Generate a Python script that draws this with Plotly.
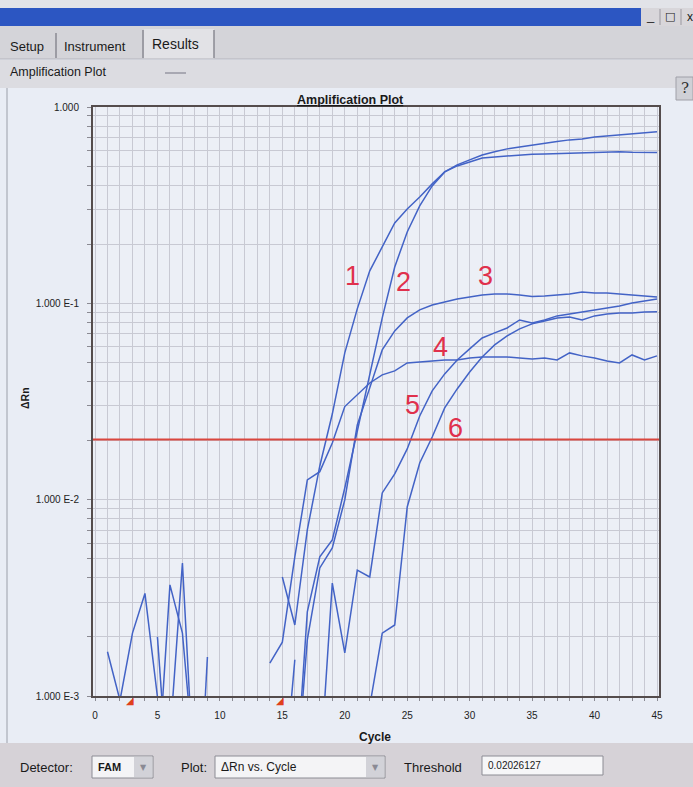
import plotly.graph_objects as go

# ---------------- data ----------------
cycles = list(range(1, 46))

# Delta Rn per cycle for wells 1-6 (None = negative reading, not drawn on the log scale)
drn_1 = [0.00168, 0.00095, 0.00209, 0.00333, 0.00099, None, None, None, None,
         None, None, None, None, None, 0.00404, 0.00230, 0.00701, 0.01485,
         0.0273, 0.0559, 0.0937, 0.1463, 0.1938, 0.2569, 0.3026, 0.3483,
         0.4058, 0.467, 0.501, 0.525, 0.550, 0.557, 0.564, 0.570, 0.574,
         0.577, 0.580, 0.584, 0.584, 0.586, 0.591, 0.591, 0.588, 0.586, 0.586]
drn_2 = [None, None, None, None, 0.0020, 0.00026, None, None, None,
         None, None, None, None, None, None, 0.000305, 0.00268, 0.00511,
         0.00623, 0.01147, 0.0221, 0.0432, 0.0843, 0.1532, 0.231, 0.3135,
         0.3964, 0.467, 0.507, 0.538, 0.570, 0.591, 0.612, 0.626, 0.641,
         0.656, 0.668, 0.680, 0.688, 0.704, 0.713, 0.721, 0.730, 0.738, 0.747]
drn_3 = [None, None, None, None, 0.00037, 0.00368, 0.00209, 0.0004, None,
         None, None, None, None, None, None, 0.0003, 0.00193, 0.00449,
         0.00568, 0.00997, 0.0240, 0.0371, 0.0579, 0.0724, 0.0843, 0.0926,
         0.0981, 0.1016, 0.1053, 0.1078, 0.1104, 0.1117, 0.1117, 0.1104, 0.1085,
         0.109, 0.1104, 0.1117, 0.1143, 0.113, 0.113, 0.1117, 0.1104, 0.109, 0.1078]
drn_4 = [None, None, None, None, None, 0.00061, 0.00476, 0.0003, None,
         None, None, None, None, 0.00147, 0.00188, 0.00511, 0.0126, 0.01389,
         0.01945, 0.0298, 0.0342, 0.0393, 0.0432, 0.0453, 0.0497, 0.0503,
         0.0509, 0.0515, 0.0515, 0.0527, 0.0533, 0.0533, 0.0533, 0.0527, 0.0521,
         0.0527, 0.0515, 0.0559, 0.054, 0.0527, 0.0509, 0.0497, 0.0546, 0.0515, 0.054]
drn_5 = [None, None, None, None, None, None, None, 0.0001, 0.00158,
         None, None, None, None, None, None, None, None, 0.000396,
         0.00376, 0.00166, 0.00438, 0.00404, 0.01082, 0.01352, 0.01813, 0.0267,
         0.0358, 0.0437, 0.0515, 0.0586, 0.0666, 0.0707, 0.0749, 0.0823, 0.0795,
         0.0823, 0.0863, 0.0883, 0.0904, 0.0926, 0.0948, 0.097, 0.1005, 0.1028, 0.1052]
drn_6 = [None, None, None, None, None, None, None, None, None,
         None, None, None, None, None, 0.00029, 0.00153, None, None,
         None, None, None, 0.00089, 0.00209, 0.0023, 0.00918, 0.01538, 0.02086,
         0.02932, 0.03664, 0.0447, 0.0533, 0.0614, 0.0682, 0.0741, 0.0786,
         0.0813, 0.0843, 0.0852, 0.0823, 0.0863, 0.0883, 0.0894, 0.0894, 0.0904, 0.0907]

wells = ["1", "2", "3", "4", "5", "6"]
threshold = 0.02026127
baseline_cycles = [3, 15]

x_tick_vals = list(range(0, 46))
x_tick_text = [str(v) if v % 5 == 0 else "" for v in x_tick_vals]
y_tick_vals = [m * 10 ** e for e in (-3, -2, -1) for m in range(1, 10)] + [1.0]
y_tick_text = [("1.000 E%d" % e if m == 1 else "") for e in (-3, -2, -1) for m in range(1, 10)] + ["1.000"]

# ---------------- geometry helpers (window chrome in pixels) ----------------
W, H = 693, 787
L, R, T, B = 93, 34, 107, 91
PW, PH = W - L - R, H - T - B


def fx(x):
    return (x - L) / PW


def fy(y):
    return (H - B - y) / PH


shapes = []
annotations = []
FONT = "Liberation Sans"


def rect(x0, y0, x1, y1, fill, line=None, lw=1):
    shapes.append(dict(type="rect", xref="paper", yref="paper", layer="below",
                       x0=fx(x0), x1=fx(x1), y0=fy(y1), y1=fy(y0),
                       fillcolor=fill,
                       line=dict(color=line if line else fill, width=lw if line else 0)))


def seg(x0, y0, x1, y1, color, lw=1):
    shapes.append(dict(type="line", xref="paper", yref="paper", layer="below",
                       x0=fx(x0), x1=fx(x1), y0=fy(y0), y1=fy(y1),
                       line=dict(color=color, width=lw)))


def text(x, y, s, size=12, color="#1a1a1a", anchor="left", family=FONT, angle=0):
    annotations.append(dict(xref="paper", yref="paper", x=fx(x), y=fy(y), text=s,
                            showarrow=False, xanchor=anchor, yanchor="middle",
                            textangle=angle, font=dict(family=family, size=size, color=color)))


# title bar
rect(0, 0, 693, 8, "#e2e3e8")
rect(0, 8, 641, 26, "#2c56c2")
rect(641, 8, 693, 26, "#d8d6da")
seg(660, 9, 660, 25, "#9a98a0")
seg(681, 9, 681, 25, "#9a98a0")
text(650, 15, "_", 13, "#202020", "center")
text(670, 17, "□", 11, "#202020", "center", "DejaVu Sans")
text(690, 17, "x", 12, "#202020", "center")

# tab strip
rect(0, 26, 693, 59, "#d4d4d9")
rect(144, 29, 214, 59, "#e2e2e6")
seg(56, 33, 56, 58, "#8a8a92", 1.5)
seg(143, 30, 143, 58, "#8a8a92", 1.5)
seg(214, 30, 214, 58, "#8a8a92", 1.5)
seg(0, 59, 693, 59, "#b4b4bc")
text(8, 46, "Setup", 13)
text(62, 46, "Instrument", 13)
text(150, 44, "Results", 14)

# sub-header row
rect(0, 60, 693, 88, "#dcdce1")
text(8, 72, "Amplification Plot", 12.5)
seg(165, 73, 186, 73, "#a8a8b2", 2)
rect(676, 77, 693, 100, "#cfd0d6", "#a0a0a8")
text(685, 88, "?", 15, "#303030", "center", "DejaVu Serif")

# panel edge
seg(7, 88, 7, 743, "#b4b8c2", 1.5)

# bottom control bar
rect(0, 743, 693, 787, "#d6d2d7")
text(18, 767, "Detector:", 13)
rect(92, 756, 153, 778, "#f4f4f6", "#8c8c94")
text(96, 767, "<b>FAM</b>", 11)
rect(134, 757, 152, 777, "#d2d2d8")
text(143, 767, "▼", 8, "#8a8a94", "center", "DejaVu Sans")
text(179, 767, "Plot:", 13)
rect(215, 756, 385, 778, "#f4f4f6", "#8c8c94")
text(219, 767, "ΔRn vs. Cycle", 12)
rect(366, 757, 384, 777, "#d2d2d8")
text(375, 767, "▼", 8, "#8a8a94", "center", "DejaVu Sans")
text(402, 767, "Threshold", 13)
rect(482, 756, 603, 775, "#f6f6f8", "#8c8c94")
text(486, 765, "%.8f" % threshold, 10)

# chart texts
text(350, 100, "<b><u>Amplification Plot</u></b>", 12.5, "#1a1a1a", "center")
text(25, 398, "<b>ΔRn</b>", 10.5, "#1a1a1a", "center", angle=-90)
text(375, 737, "<b>Cycle</b>", 12, "#1a1a1a", "center")

# ---------------- figure ----------------
fig = go.Figure()
series = [drn_1, drn_2, drn_3, drn_4, drn_5, drn_6]
for name, vals in zip(wells, series):
    fig.add_trace(go.Scatter(x=cycles, y=vals, mode="lines", name=name,
                             line=dict(color="#4363c6", width=1.5),
                             connectgaps=False, showlegend=False))

fig.add_trace(go.Scatter(x=[-0.16, 45.16], y=[threshold, threshold], mode="lines",
                         line=dict(color="#d9463e", width=2), showlegend=False))

# baseline start / end flags just under the cycle axis
for c in baseline_cycles:
    annotations.append(dict(xref="x", yref="paper", x=c, y=fy(700), text="◢",
                            showarrow=False, xanchor="center", yanchor="middle",
                            xshift=-2,
                            font=dict(family="DejaVu Sans", size=10, color="#e0401c")))

# well numbers next to each curve (x in cycles, y in log10 Delta Rn)
well_labels = [("1", 20.6, -0.86), ("2", 24.7, -0.89), ("3", 31.3, -0.86),
               ("4", 27.7, -1.22), ("5", 25.4, -1.52), ("6", 28.9, -1.635)]
for t, cx, cy in well_labels:
    annotations.append(dict(xref="x", yref="y", x=cx, y=cy, text=t, showarrow=False,
                            font=dict(family=FONT, size=27, color="#e0304c")))

grid = "#c8c9d3"
fig.update_layout(
    width=W, height=H, autosize=False,
    margin=dict(l=L, r=R, t=T, b=B, pad=0),
    paper_bgcolor="#e9edf5", plot_bgcolor="#eceff6",
    shapes=shapes, annotations=annotations,
    xaxis=dict(range=[-0.16, 45.16], tickmode="array", tickvals=x_tick_vals,
               ticktext=x_tick_text, showgrid=True, gridcolor=grid, gridwidth=1,
               zeroline=False, showline=True, linecolor="#544c4c", linewidth=2,
               mirror=True, ticks="outside", ticklen=3, tickcolor="#8a8a92",
               ticklabelstandoff=6,
               tickfont=dict(family=FONT, size=10, color="#222222")),
    yaxis=dict(type="log", range=[-3, 0.0], tickmode="array", tickvals=y_tick_vals,
               ticktext=y_tick_text, showgrid=True, gridcolor=grid, gridwidth=1,
               zeroline=False, showline=True, linecolor="#544c4c", linewidth=2,
               mirror=True, ticks="outside", ticklen=4, tickcolor="#8a8a92",
               ticklabelstandoff=6,
               tickfont=dict(family=FONT, size=10, color="#222222")),
)

fig.write_html("out.html")
